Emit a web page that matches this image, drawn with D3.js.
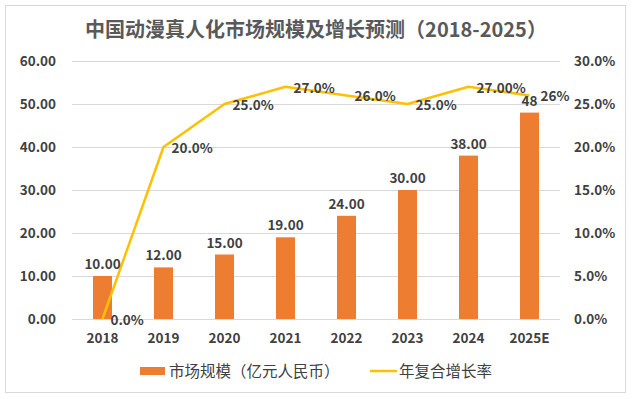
<!DOCTYPE html>
<html><head><meta charset="utf-8">
<script src="https://cdn.jsdelivr.net/npm/d3@7"></script>
<style>body{margin:0;background:#fff}svg{display:block}</style>
</head><body>
<svg id="c" width="632" height="399"></svg>
<script>
const categories = ["2018","2019","2020","2021","2022","2023","2024","2025E"];
const marketSize = [10, 12, 15, 19, 24, 30, 38, 48];
const growthRate = [0, 20, 25, 27, 26, 25, 27, 26];
const barLabels = ["10.00","12.00","15.00","19.00","24.00","30.00","38.00","48"];
const lineLabels = ["0.0%","20.0%","25.0%","27.0%","26.0%","25.0%","27.00%","26%"];
const leftTicks = [0,10,20,30,40,50,60];
const rightTicks = [0,5,10,15,20,25,30];
const title = "中国动漫真人化市场规模及增长预测（2018-2025）";
const legendNames = ["市场规模（亿元人民币）","年复合增长率"];

const svg = d3.select("#c");
const font = "'Noto Sans CJK SC','Noto Sans',sans-serif";
const textColor = "#404040";
const m = {l:72, r:560, t:61, b:319};

svg.append("rect").attr("x",5.5).attr("y",5.5).attr("width",620).attr("height",387)
  .attr("fill","#fff").attr("stroke","#d9d9d9");

const x = d3.scaleBand().domain(categories).range([m.l, m.r]);
const yL = d3.scaleLinear().domain([0,60]).range([m.b, m.t]);
const yR = d3.scaleLinear().domain([0,30]).range([m.b, m.t]);

svg.append("text").attr("x",316).attr("y",37).attr("text-anchor","middle")
  .attr("font-family",font).attr("font-size",20).attr("font-weight","bold")
  .attr("fill","#595959").text(title);

// gridlines
svg.append("g").selectAll("line").data(leftTicks).join("line")
  .attr("x1",m.l).attr("x2",m.r).attr("y1",d=>yL(d)+0.5).attr("y2",d=>yL(d)+0.5)
  .attr("stroke","#d9d9d9").attr("stroke-width",1);

// left axis
const gl = svg.append("g").attr("transform",`translate(${m.l-8},0)`)
  .call(d3.axisLeft(yL).tickValues(leftTicks).tickFormat(d3.format(".2f")).tickSize(0).tickPadding(8));
gl.select(".domain").remove();
gl.selectAll("text").attr("font-family",font).attr("font-size",13.5).attr("font-weight","bold").attr("fill",textColor);

// right axis
const gr = svg.append("g").attr("transform",`translate(${m.r+6},0)`)
  .call(d3.axisRight(yR).tickValues(rightTicks).tickFormat(d=>d.toFixed(1)+"%").tickSize(0).tickPadding(8));
gr.select(".domain").remove();
gr.selectAll("text").attr("font-family",font).attr("font-size",13.5).attr("font-weight","bold").attr("fill",textColor);

// x axis
const gx = svg.append("g").attr("transform",`translate(0,${m.b})`)
  .call(d3.axisBottom(x).tickSize(0).tickPadding(14));
gx.select(".domain").remove();
gx.selectAll("text").attr("font-family",font).attr("font-size",13.5).attr("font-weight","bold").attr("fill",textColor);

// bars
const bw = 19;
svg.append("g").selectAll("rect").data(marketSize).join("rect")
  .attr("x",(d,i)=>x(categories[i])+x.bandwidth()/2-bw/2)
  .attr("y",d=>yL(d)).attr("width",bw).attr("height",d=>m.b-yL(d))
  .attr("fill","#ED7D31");

// line
const line = d3.line().x((d,i)=>x(categories[i])+x.bandwidth()/2).y(d=>yR(d));
svg.append("path").datum(growthRate).attr("d",line).attr("fill","none")
  .attr("stroke","#FFC000").attr("stroke-width",2.5).attr("stroke-linejoin","round");

// bar labels
svg.append("g").selectAll("text").data(marketSize).join("text")
  .attr("x",(d,i)=>x(categories[i])+x.bandwidth()/2)
  .attr("y",d=>yL(d)-7)
  .attr("text-anchor","middle")
  .attr("font-family",font).attr("font-size",13.5).attr("font-weight","bold").attr("fill",textColor)
  .text((d,i)=>barLabels[i]);

// line labels
svg.append("g").selectAll("text").data(growthRate).join("text")
  .attr("x",(d,i)=>x(categories[i])+x.bandwidth()/2 + (i===7?11:8))
  .attr("y",d=>yR(d)+6)
  .attr("font-family",font).attr("font-size",13.5).attr("font-weight","bold").attr("fill",textColor)
  .text((d,i)=>lineLabels[i]);

// legend
const lg = svg.append("g");
lg.append("rect").attr("x",140).attr("y",367).attr("width",25).attr("height",8).attr("fill","#ED7D31");
lg.append("text").attr("x",169).attr("y",377).attr("font-family",font).attr("font-size",15.5)
  .attr("fill",textColor).text(legendNames[0]);
lg.append("line").attr("x1",370).attr("x2",397).attr("y1",371).attr("y2",371)
  .attr("stroke","#FFC000").attr("stroke-width",2.5);
lg.append("text").attr("x",399).attr("y",377).attr("font-family",font).attr("font-size",15.5)
  .attr("fill",textColor).text(legendNames[1]);
</script>
</body></html>
